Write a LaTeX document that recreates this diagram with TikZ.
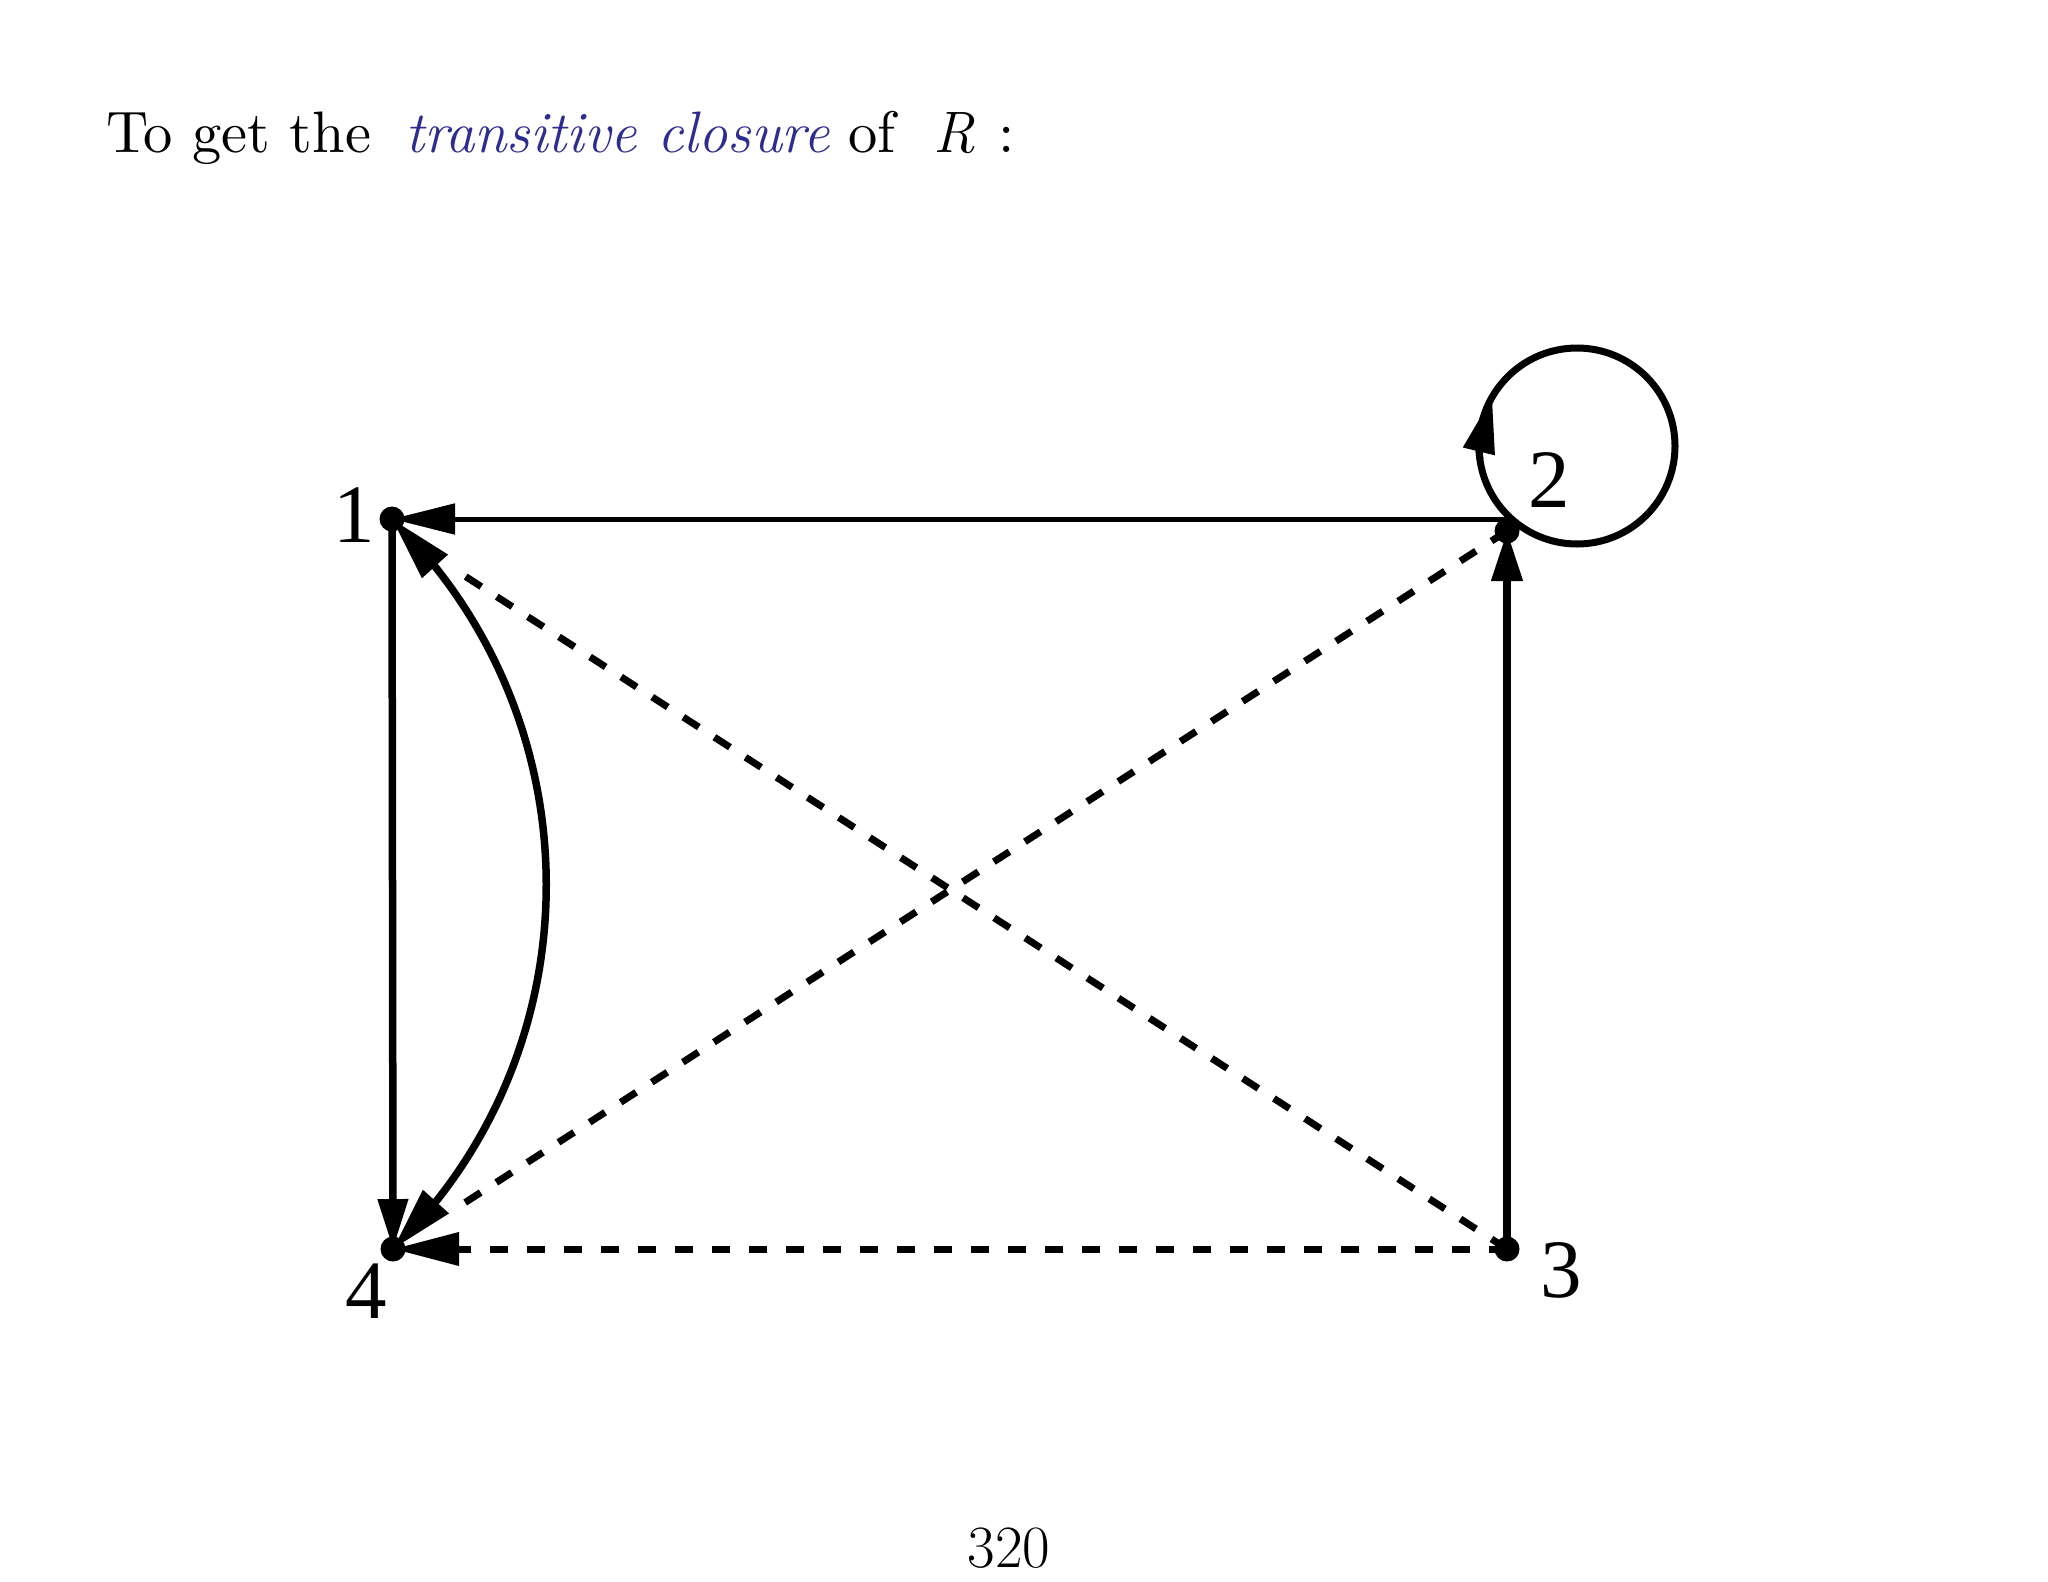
\documentclass[tikz,border=0pt]{standalone}
\usepackage{fontspec}
\newfontfamily\labfont{Liberation Serif}
\newfontface\romten{lmroman10-regular}[Extension=.otf]
\usetikzlibrary{arrows.meta,calc,bending}
\definecolor{titleblue}{RGB}{45,45,145}
\tikzset{
  edgeline/.style={line width=7.5pt},
  thinedge/.style={line width=5pt},
  loopline/.style={line width=7pt},
  dashline/.style={line width=7pt, dash pattern=on 18.5pt off 18.5pt},
  dotnode/.style={circle, fill=black, inner sep=0pt, minimum size=25pt},
  lbl/.style={font=\labfont\fontsize{83}{90}\selectfont, anchor=base, inner sep=0pt},
  romtext/.style={font=\romten\fontsize{58.5}{70}\selectfont, inner sep=0pt, anchor=base west},
  ittext/.style={font=\fontsize{58.5}{70}\selectfont\itshape, inner sep=0pt, anchor=base west},
  bigtext/.style={font=\fontsize{60}{72}\selectfont, inner sep=0pt},
}
\begin{document}
\begin{tikzpicture}[x=1pt,y=1pt]
\useasboundingbox[fill=white] (0,0) rectangle (2048,-1582);
% vertices
\coordinate (n1) at (392,-519);
\coordinate (n2) at (1507,-531);
\coordinate (n3) at (1507,-1249);
\coordinate (n4) at (393,-1249);
\coordinate (lc) at ($(n2)+(70,85)$);
% title and page number
\node[romtext] (t1) at (106,-152) {To get the};
\node[ittext, text=titleblue] (t2) at (405,-152) {transitive closure};
\node[romtext] (t3) at (848,-152) {of};
\node[ittext] (t4) at (933,-152) {R};
\node[romtext] (t5) at (998,-152) {:};
\node[bigtext, anchor=base] (page) at (1009,-1567) {320};
% dashed edges
\draw[dashline, shorten >=80pt] (n3) -- ($(n1)+(0,-10)$);
\draw[dashline, shorten >=82pt] (n2) -- (n4);
\draw[dashline, -{Triangle[length=66pt,width=32pt]}] (n3) -- (n4);
% solid edges
\draw[thinedge, -{Triangle[length=63pt,width=30pt]}] (n2 |- n1) -- (n1);
\draw[edgeline, -{Triangle[length=50pt,width=29pt]}] (n1) -- (n4);
\draw[edgeline, -{Triangle[length=50pt,width=30pt]}] (n3) -- (n2);
\draw[edgeline, {Triangle[length=64pt,width=33pt]}-{Triangle[length=64pt,width=33pt]}]
  (n4) .. controls ($(n4)+(205,200)$) and ($(n1)+(205,-200)$) .. (n1);
% loop on 2
\draw[loopline] (lc) circle[radius=98];
\draw[loopline, -{Triangle[length=56pt,width=31pt,flex]}]
  ($(lc)+(188:98)$) arc[start angle=188, end angle=150, radius=98];
% dots
\node[dotnode] (d1) at (n1) {};
\node[dotnode] (d2) at (n2) {};
\node[dotnode] (d3) at (n3) {};
\node[dotnode] (d4) at (n4) {};
% labels
\node[lbl] (l1) at (354,-542) {1};
\node[lbl] (l2) at (1549,-507) {2};
\node[lbl] (l3) at (1561,-1297) {3};
\node[lbl] (l4) at (366,-1318) {4};
\end{tikzpicture}
\end{document}
